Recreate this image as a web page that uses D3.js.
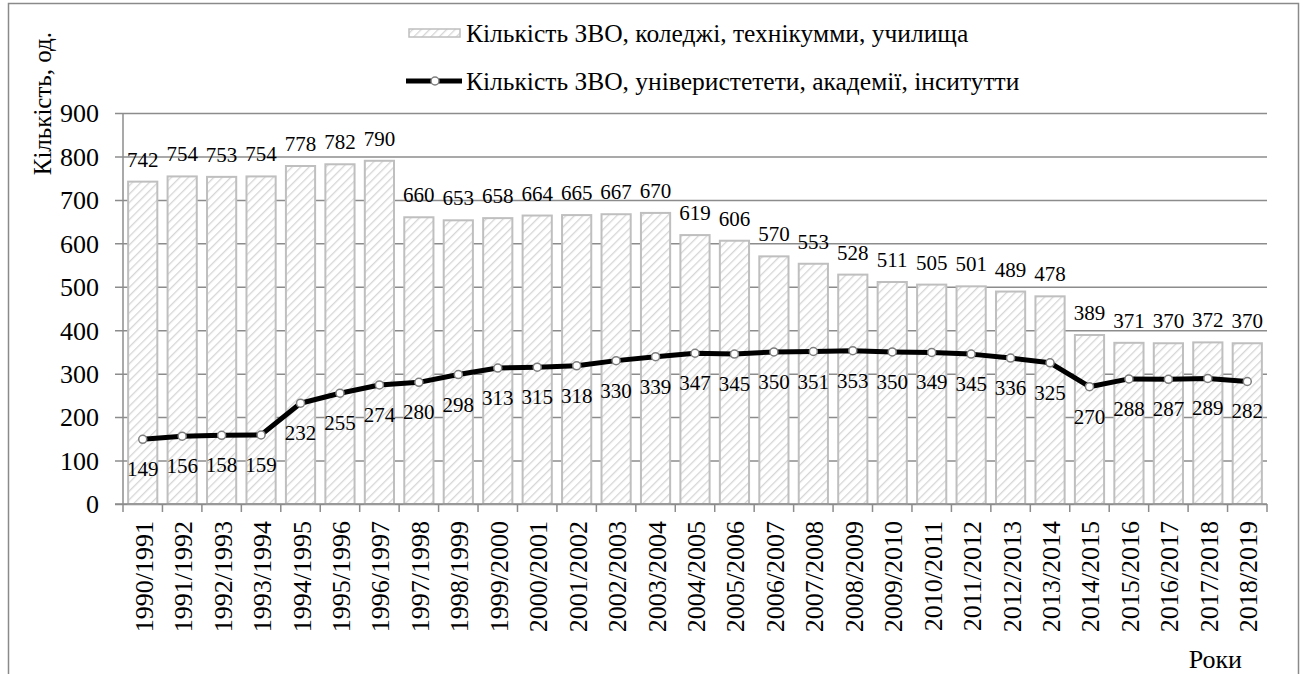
<!DOCTYPE html>
<html>
<head>
<meta charset="utf-8">
<script src="https://cdn.jsdelivr.net/npm/d3@7"></script>
<style>
  html, body { margin: 0; padding: 0; background: #fff; }
  svg { display: block; font-family: "Liberation Serif", "Times New Roman", serif; }
</style>
</head>
<body>
<svg id="chart"></svg>
<script>
// Academic years (categories)
const years = [
  "1990/1991", "1991/1992", "1992/1993", "1993/1994", "1994/1995",
  "1995/1996", "1996/1997", "1997/1998", "1998/1999", "1999/2000",
  "2000/2001", "2001/2002", "2002/2003", "2003/2004", "2004/2005",
  "2005/2006", "2006/2007", "2007/2008", "2008/2009", "2009/2010",
  "2010/2011", "2011/2012", "2012/2013", "2013/2014", "2014/2015",
  "2015/2016", "2016/2017", "2017/2018", "2018/2019",
];

// Colleges, technical schools (bars)
const collegeCounts = [
  742, 754, 753, 754, 778, 782, 790, 660, 653, 658, 664, 665, 667, 670,
  619, 606, 570, 553, 528, 511, 505, 501, 489, 478, 389, 371, 370, 372, 370,
];

// Universities, academies, institutes (line)
const universityCounts = [
  149, 156, 158, 159, 232, 255, 274, 280, 298, 313, 315, 318, 330, 339,
  347, 345, 350, 351, 353, 350, 349, 345, 336, 325, 270, 288, 287, 289, 282,
];

const yTicks = [0, 100, 200, 300, 400, 500, 600, 700, 800, 900];

const seriesNames = [
  "Кількість ЗВО, коледжі, технікумми, училища",
  "Кількість ЗВО, універистетети, академії, інситутти",
];

const width = 1306;
const height = 674;
const plot = { left: 123, right: 1267, top: 113, bottom: 504 };
const gridColor = "#8c8c8c";

const svg = d3.select("#chart").attr("width", width).attr("height", height);

// Hatch pattern for the bars
const defs = svg.append("defs");
const pattern = defs
  .append("pattern")
  .attr("id", "hatch")
  .attr("patternUnits", "userSpaceOnUse")
  .attr("width", 6)
  .attr("height", 6)
  .attr("patternTransform", "rotate(45)");
pattern.append("rect").attr("width", 6).attr("height", 6).attr("fill", "#ffffff");
pattern
  .append("line")
  .attr("x1", 0).attr("y1", 0).attr("x2", 0).attr("y2", 6)
  .attr("stroke", "#d6d6d6")
  .attr("stroke-width", 2.6);

// Outer frame
svg
  .append("rect")
  .attr("x", 8.5)
  .attr("y", 3.5)
  .attr("width", 1290)
  .attr("height", 700)
  .attr("fill", "none")
  .attr("stroke", "#8a8a8a")
  .attr("stroke-width", 1.5);

// Scales
const xScale = d3
  .scaleBand()
  .domain(years)
  .range([plot.left, plot.right])
  .paddingInner(0.26)
  .paddingOuter(0.13);

const yScale = d3.scaleLinear().domain([0, 900]).range([plot.bottom, plot.top]);

const xCenter = (i) => xScale(years[i]) + xScale.bandwidth() / 2;

// Gridlines + y axis
const yAxis = d3
  .axisLeft(yScale)
  .tickValues(yTicks)
  .tickSize(-(plot.right - plot.left))
  .tickFormat((d) => d);

const yAxisGroup = svg
  .append("g")
  .attr("transform", "translate(" + plot.left + ",0)")
  .call(yAxis);
yAxisGroup.select(".domain").remove();
yAxisGroup
  .selectAll(".tick line")
  .attr("x1", -8)
  .attr("stroke", gridColor)
  .attr("stroke-width", 1.5);
yAxisGroup
  .selectAll(".tick text")
  .attr("x", -24)
  .attr("dy", "0.34em")
  .attr("font-size", 26)
  .attr("fill", "#000")
  .attr("font-family", "Liberation Serif, Times New Roman, serif");

// Vertical axis line
svg
  .append("line")
  .attr("x1", plot.left).attr("x2", plot.left)
  .attr("y1", plot.top).attr("y2", plot.bottom)
  .attr("stroke", gridColor)
  .attr("stroke-width", 1.5);

// Bars
svg
  .append("g")
  .selectAll("rect")
  .data(collegeCounts)
  .enter()
  .append("rect")
  .attr("x", (d, i) => xScale(years[i]))
  .attr("y", (d) => yScale(d))
  .attr("width", xScale.bandwidth())
  .attr("height", (d) => yScale(0) - yScale(d))
  .attr("fill", "url(#hatch)")
  .attr("stroke", "#bfbfbf")
  .attr("stroke-width", 2);

// X axis with ticks between categories
const xAxisGroup = svg
  .append("g")
  .attr("transform", "translate(0," + plot.bottom + ")");
xAxisGroup
  .append("line")
  .attr("x1", plot.left - 8).attr("x2", plot.right)
  .attr("stroke", gridColor)
  .attr("stroke-width", 1.5);
const step = xScale.step();
xAxisGroup
  .selectAll(".xtick")
  .data(d3.range(years.length + 1))
  .enter()
  .append("line")
  .attr("x1", (i) => plot.left + i * step)
  .attr("x2", (i) => plot.left + i * step)
  .attr("y1", 0)
  .attr("y2", 8)
  .attr("stroke", gridColor)
  .attr("stroke-width", 1.5);
xAxisGroup
  .selectAll(".xlabel")
  .data(years)
  .enter()
  .append("text")
  .attr("text-anchor", "end")
  .attr("font-size", 26)
  .attr("transform", (d, i) => "translate(" + (xCenter(i) + 10) + ",17) rotate(-90)")
  .text((d) => d);

// Bar value labels
svg
  .append("g")
  .selectAll("text")
  .data(collegeCounts)
  .enter()
  .append("text")
  .attr("x", (d, i) => xCenter(i))
  .attr("y", (d) => yScale(d) - 15)
  .attr("text-anchor", "middle")
  .attr("font-size", 21)
  .text((d) => d);

// University line
const line = d3
  .line()
  .x((d, i) => xCenter(i))
  .y((d) => yScale(d));

svg
  .append("path")
  .datum(universityCounts)
  .attr("d", line)
  .attr("fill", "none")
  .attr("stroke", "#000")
  .attr("stroke-width", 5)
  .attr("stroke-linejoin", "round");

svg
  .append("g")
  .selectAll("circle")
  .data(universityCounts)
  .enter()
  .append("circle")
  .attr("cx", (d, i) => xCenter(i))
  .attr("cy", (d) => yScale(d))
  .attr("r", 4)
  .attr("fill", "#fff")
  .attr("stroke", "#7f7f7f")
  .attr("stroke-width", 1.5);

svg
  .append("g")
  .selectAll("text")
  .data(universityCounts)
  .enter()
  .append("text")
  .attr("x", (d, i) => xCenter(i))
  .attr("y", (d) => yScale(d) + 37)
  .attr("text-anchor", "middle")
  .attr("font-size", 21)
  .text((d) => d);

// Axis titles
svg
  .append("text")
  .attr("transform", "translate(51,32) rotate(-90)")
  .attr("text-anchor", "end")
  .attr("font-size", 25)
  .text("Кількість, од.");

svg
  .append("text")
  .attr("x", 1242)
  .attr("y", 668)
  .attr("text-anchor", "end")
  .attr("font-size", 26)
  .text("Роки");

// Legend
const legend = svg.append("g");
legend
  .append("rect")
  .attr("x", 409).attr("y", 29)
  .attr("width", 51).attr("height", 8)
  .attr("fill", "url(#hatch)")
  .attr("stroke", "#bfbfbf")
  .attr("stroke-width", 1.5);
legend
  .append("text")
  .attr("x", 466).attr("y", 42)
  .attr("font-size", 25.5)
  .text(seriesNames[0]);

legend
  .append("line")
  .attr("x1", 406).attr("x2", 462)
  .attr("y1", 81).attr("y2", 81)
  .attr("stroke", "#000")
  .attr("stroke-width", 5);
legend
  .append("circle")
  .attr("cx", 435).attr("cy", 81).attr("r", 4)
  .attr("fill", "#fff")
  .attr("stroke", "#7f7f7f")
  .attr("stroke-width", 1.5);
legend
  .append("text")
  .attr("x", 466).attr("y", 90)
  .attr("font-size", 25.5)
  .text(seriesNames[1]);
</script>
</body>
</html>
